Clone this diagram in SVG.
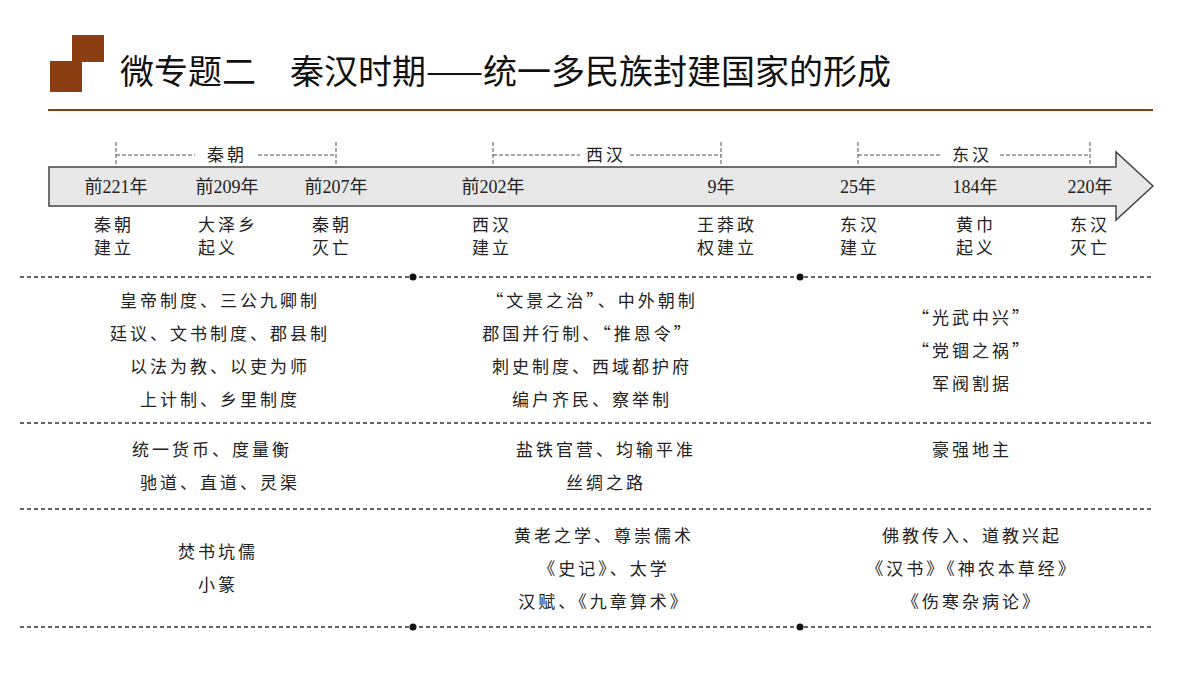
<svg xmlns="http://www.w3.org/2000/svg" width="1200" height="675" viewBox="0 0 1200 675">
<style>
.t{font-family:"Noto Sans CJK SC",sans-serif;font-size:17px;fill:#222;text-anchor:middle;letter-spacing:3px}
.y{font-family:"Liberation Serif","Noto Sans CJK SC",serif;font-size:18px;fill:#222;text-anchor:middle}
.d{stroke:#333;stroke-width:1.3;stroke-dasharray:4,3;fill:none}
.b{stroke:#555;stroke-width:1;stroke-dasharray:4,2;fill:none}
</style>
<rect width="1200" height="675" fill="#fff"/>
<g id="title">
<polygon points="72,35 104,35 104,62 82,62 82,92 50,92 50,61 72,61" fill="#8B3E12"/>
<text x="120" y="84" font-family="Noto Sans CJK SC,sans-serif" font-size="34" fill="#111">微专题二　秦汉时期——统一多民族封建国家的形成</text>
<line x1="48" y1="110" x2="1153" y2="110" stroke="#8B3E12" stroke-width="2"/>
</g>
<g id="timeline">
<polygon points="49,167 1116,167 1116,152 1153,186 1116,220 1116,206 49,206" fill="#e8e8e8" stroke="#444" stroke-width="1.5"/>
<g class="y">
<text x="116" y="193">前221年</text><text x="227" y="193">前209年</text><text x="336" y="193">前207年</text>
<text x="493" y="193">前202年</text><text x="721" y="193">9年</text><text x="858" y="193">25年</text>
<text x="975" y="193">184年</text><text x="1090" y="193">220年</text>
</g>
</g>
<g id="periods">
<path class="b" d="M116,142V166M336,142V166M116,155H195M258,155H336"/>
<text class="t" x="227" y="161">秦朝</text>
<path class="b" d="M493,142V166M721,142V166M493,155H580M630,155H721"/>
<text class="t" x="606" y="161">西汉</text>
<path class="b" d="M858,142V166M1090,142V166M858,155H940M1000,155H1090"/>
<text class="t" x="972" y="161">东汉</text>
</g>
<g id="events" class="t">
<text x="114" y="231">秦朝</text><text x="114" y="254">建立</text>
<text x="228" y="231">大泽乡</text><text x="218" y="254">起义</text>
<text x="332" y="231">秦朝</text><text x="332" y="254">灭亡</text>
<text x="492" y="231">西汉</text><text x="492" y="254">建立</text>
<text x="727" y="231">王莽政</text><text x="727" y="254">权建立</text>
<text x="860" y="231">东汉</text><text x="860" y="254">建立</text>
<text x="976" y="231">黄巾</text><text x="976" y="254">起义</text>
<text x="1090" y="231">东汉</text><text x="1090" y="254">灭亡</text>
</g>
<g id="connectors">
<path class="d" d="M20,277H1153M20,423H1153M20,509H1153M20,627H1153"/>
<circle cx="413" cy="277" r="3.5" fill="#111"/><circle cx="800" cy="277" r="3.5" fill="#111"/>
<circle cx="413" cy="627" r="3.5" fill="#111"/><circle cx="800" cy="627" r="3.5" fill="#111"/>
</g>
<g id="politics" class="t">
<text x="220" y="307">皇帝制度、三公九卿制</text>
<text x="220" y="340">廷议、文书制度、郡县制</text>
<text x="220" y="373">以法为教、以吏为师</text>
<text x="220" y="406">上计制、乡里制度</text>
<text x="592" y="307">“文景之治”、中外朝制</text>
<text x="588" y="340">郡国并行制、“推恩令”</text>
<text x="592" y="373">刺史制度、西域都护府</text>
<text x="592" y="406">编户齐民、察举制</text>
<text x="972" y="324">“光武中兴”</text>
<text x="972" y="357">“党锢之祸”</text>
<text x="972" y="390">军阀割据</text>
</g>
<g id="economy" class="t">
<text x="212" y="456">统一货币、度量衡</text>
<text x="220" y="489">驰道、直道、灵渠</text>
<text x="606" y="456">盐铁官营、均输平准</text>
<text x="606" y="489">丝绸之路</text>
<text x="972" y="456">豪强地主</text>
</g>
<g id="culture" class="t">
<text x="218" y="558">焚书坑儒</text>
<text x="218" y="591">小篆</text>
<text x="604" y="542">黄老之学、尊崇儒术</text>
<text x="604" y="575">《史记》、太学</text>
<text x="604" y="608">汉赋、《九章算术》</text>
<text x="972" y="542">佛教传入、道教兴起</text>
<text x="972" y="575">《汉书》《神农本草经》</text>
<text x="972" y="608">《伤寒杂病论》</text>
</g>
</svg>
